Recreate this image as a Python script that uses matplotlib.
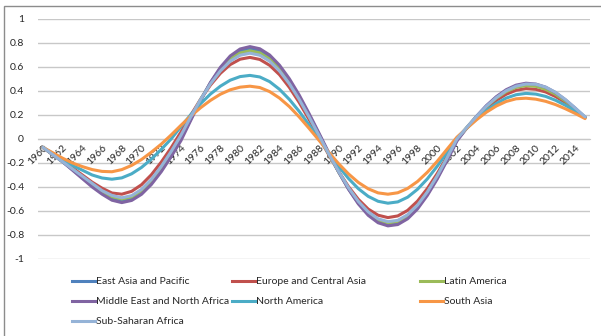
import numpy as np
import matplotlib
matplotlib.use("Agg")
import matplotlib.pyplot as plt
from matplotlib.lines import Line2D
from matplotlib.patches import Rectangle

plt.rcParams['font.family'] = ['Lato', 'DejaVu Sans']

years = list(range(1960, 2016))

east_asia_pacific = [
    -0.07, -0.13, -0.19, -0.255, -0.325, -0.39, -0.45, -0.495, -0.515,
    -0.497, -0.446, -0.364, -0.258, -0.133, 0.001,
    0.167, 0.326, 0.468, 0.588, 0.678, 0.734, 0.752,
    0.735, 0.683, 0.599, 0.487, 0.352, 0.201, 0.041,
    -0.12, -0.274, -0.415, -0.534, -0.626, -0.686, -0.711,
    -0.70, -0.652, -0.571, -0.458, -0.323, -0.17, -0.008,
    0.094, 0.189, 0.275, 0.347, 0.403, 0.44, 0.455,
    0.448, 0.423, 0.38, 0.321, 0.253, 0.18]

europe_central_asia = [
    -0.07, -0.13, -0.18, -0.24, -0.30, -0.36, -0.41, -0.45, -0.46,
    -0.436, -0.381, -0.298, -0.193, -0.074, 0.058,
    0.199, 0.332, 0.450, 0.547, 0.620, 0.665, 0.68,
    0.663, 0.614, 0.536, 0.430, 0.304, 0.163, 0.015,
    -0.132, -0.271, -0.397, -0.503, -0.584, -0.635, -0.655,
    -0.641, -0.595, -0.518, -0.413, -0.288, -0.147, 0.0,
    0.091, 0.178, 0.256, 0.322, 0.373, 0.406, 0.420,
    0.414, 0.392, 0.354, 0.304, 0.244, 0.18]

latin_america = [
    -0.07, -0.13, -0.19, -0.25, -0.32, -0.38, -0.44, -0.48, -0.50,
    -0.482, -0.431, -0.349, -0.242, -0.118, 0.016,
    0.177, 0.329, 0.465, 0.579, 0.664, 0.717, 0.735,
    0.718, 0.666, 0.583, 0.472, 0.339, 0.190, 0.032,
    -0.125, -0.275, -0.412, -0.527, -0.616, -0.675, -0.699,
    -0.688, -0.640, -0.559, -0.447, -0.312, -0.160, 0.0,
    0.096, 0.188, 0.271, 0.341, 0.395, 0.430, 0.445,
    0.439, 0.414, 0.373, 0.316, 0.251, 0.18]

middle_east_north_africa = [
    -0.07, -0.13, -0.19, -0.26, -0.33, -0.40, -0.46, -0.51, -0.53,
    -0.512, -0.461, -0.379, -0.273, -0.148, -0.014,
    0.156, 0.323, 0.472, 0.597, 0.692, 0.750, 0.77,
    0.752, 0.700, 0.615, 0.502, 0.366, 0.212, 0.050,
    -0.115, -0.274, -0.418, -0.541, -0.636, -0.698, -0.724,
    -0.713, -0.665, -0.583, -0.470, -0.334, -0.179, -0.017,
    0.092, 0.190, 0.279, 0.353, 0.411, 0.449, 0.465,
    0.458, 0.432, 0.387, 0.327, 0.256, 0.18]

north_america = [
    -0.07, -0.12, -0.17, -0.22, -0.26, -0.30, -0.325, -0.335,
    -0.324, -0.290, -0.237, -0.168, -0.087, 0.0,
    0.103, 0.203, 0.295, 0.375, 0.440, 0.490, 0.520, 0.53,
    0.517, 0.478, 0.414, 0.330, 0.230, 0.118, 0.0,
    -0.118, -0.229, -0.329, -0.414, -0.478, -0.519, -0.535,
    -0.524, -0.485, -0.419, -0.332, -0.227, -0.110, 0.008,
    0.090, 0.168, 0.238, 0.296, 0.341, 0.369, 0.380,
    0.374, 0.355, 0.323, 0.281, 0.233, 0.18]

south_asia = [
    -0.07, -0.115, -0.16, -0.20, -0.23, -0.255, -0.27,
    -0.273, -0.255, -0.220, -0.171, -0.110, -0.043,
    0.033, 0.114, 0.191, 0.261, 0.322, 0.373, 0.410, 0.432, 0.44,
    0.429, 0.395, 0.341, 0.270, 0.184, 0.089, -0.010,
    -0.111, -0.206, -0.291, -0.362, -0.415, -0.449, -0.46,
    -0.448, -0.412, -0.354, -0.277, -0.186, -0.085, 0.015,
    0.090, 0.161, 0.224, 0.275, 0.313, 0.335, 0.340,
    0.332, 0.314, 0.287, 0.252, 0.213, 0.17]

sub_saharan_africa = [
    -0.07, -0.13, -0.19, -0.25, -0.31, -0.37, -0.43, -0.47, -0.49,
    -0.472, -0.420, -0.337, -0.229, -0.105, 0.031,
    0.185, 0.330, 0.460, 0.567, 0.648, 0.698, 0.715,
    0.698, 0.648, 0.567, 0.460, 0.330, 0.185, 0.031,
    -0.124, -0.271, -0.406, -0.520, -0.607, -0.665, -0.689,
    -0.678, -0.631, -0.551, -0.441, -0.308, -0.157, 0.0,
    0.097, 0.189, 0.274, 0.345, 0.402, 0.440, 0.458,
    0.456, 0.432, 0.389, 0.329, 0.258, 0.185]

series_names = ["East Asia and Pacific", "Europe and Central Asia", "Latin America",
                "Middle East and North Africa", "North America", "South Asia",
                "Sub-Saharan Africa"]
series_values = [east_asia_pacific, europe_central_asia, latin_america,
                 middle_east_north_africa, north_america, south_asia,
                 sub_saharan_africa]
series_colors = ["#4F81BD", "#C0504D", "#9BBB59", "#8064A2", "#4BACC6",
                 "#F79646", "#95B3D7"]

y_ticks = [1, 0.8, 0.6, 0.4, 0.2, 0, -0.2, -0.4, -0.6, -0.8, -1]
y_tick_labels = ["1", "0.8", "0.6", "0.4", "0.2", "0", "-0.2", "-0.4", "-0.6", "-0.8", "-1"]
x_tick_years = years[::2]

W, H = 601, 336
fig = plt.figure(figsize=(W / 100, H / 100), dpi=100)
ax = fig.add_axes([38 / W, 1 - 259 / H, (590 - 38) / W, (259 - 19) / H])

grid_color = "#C8C8C8"
for yv in y_ticks:
    ax.axhline(yv, color=grid_color, lw=1.0, zorder=0)

for name, vals, col in zip(series_names, series_values, series_colors):
    ax.plot(years, vals, color=col, lw=2.2, solid_capstyle='round',
            solid_joinstyle='round', label=name, zorder=2)

ax.set_xlim(1959.5, 2015.5)
ax.set_ylim(-1, 1)

for s in ["top", "right", "left"]:
    ax.spines[s].set_visible(False)
ax.spines["bottom"].set_position(("data", 0))
ax.spines["bottom"].set_color(grid_color)
ax.spines["bottom"].set_zorder(0)

ax.set_yticks(y_ticks)
ax.set_yticklabels(y_tick_labels)
ax.tick_params(axis="y", length=0, pad=10, labelsize=7.5, labelcolor="#262626")

ax.set_xticks(x_tick_years)
ax.set_xticklabels([str(y) for y in x_tick_years])
ax.tick_params(axis="x", length=0, pad=3, labelsize=7.5, labelcolor="#262626")
for lab in ax.get_xticklabels():
    lab.set_rotation(45)
    lab.set_ha("right")
    lab.set_va("top")
    lab.set_rotation_mode("anchor")

# legend laid out in three fixed columns below the plot
col_x = [72, 232, 420]
row_y = [281, 301, 321]
for i, (name, col) in enumerate(zip(series_names, series_colors)):
    cx = col_x[i % 3]
    ry = row_y[i // 3]
    fig.add_artist(Line2D([cx / W, (cx + 23) / W], [1 - ry / H, 1 - ry / H],
                          color=col, lw=2.2, transform=fig.transFigure))
    fig.text((cx + 24) / W, 1 - ry / H, name, fontsize=7.5, color="#262626",
             va="center", ha="left")

# chart frame
fig.add_artist(Rectangle((4 / W, -0.5), 2.0, 1.5 - 6 / H, transform=fig.transFigure,
                         fill=False, edgecolor="#8C8C8C", lw=1.0))

fig.savefig("out.png", dpi=100)
